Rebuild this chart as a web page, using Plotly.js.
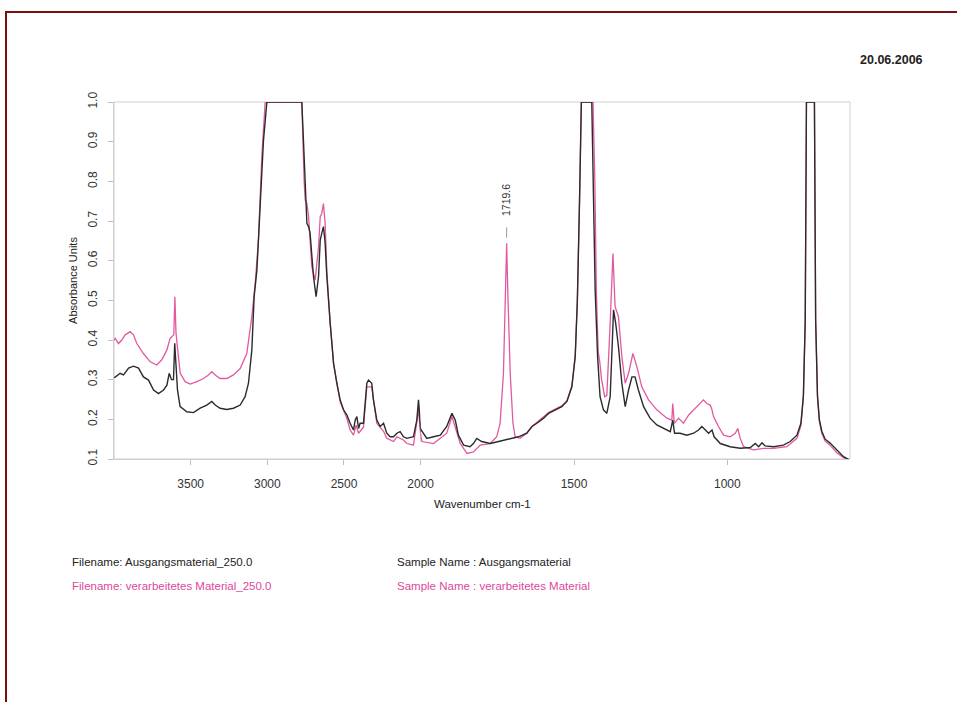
<!DOCTYPE html>
<html>
<head>
<meta charset="utf-8">
<script src="https://cdn.plot.ly/plotly-3.0.1.min.js"></script>
<style>
html,body{margin:0;padding:0;background:#fff;}
#chart{width:957px;height:702px;}
</style>
</head>
<body>
<div id="chart"></div>
<script>
// ---- Data ----
const blackWn = [4000,3990,3960,3938,3905,3873,3840,3808,3775,3742,3710,3677,3655,3640,3625,3612,3604,3597,3586,3569,3525,3482,3438,3395,3362,3340,3308,3264,3221,3177,3145,3123,3101,3086,3068,3047,3025,3003,2775,2760,2742,2731,2721,2699,2682,2666,2655,2645,2634,2623,2612,2590,2568,2547,2525,2503,2481,2460,2438,2427,2416,2405,2395,2373,2351,2340,2319,2308,2286,2264,2242,2221,2199,2177,2155,2134,2112,2090,2047,2025,2014,2000,1980,1958,1936,1915,1898,1887,1877,1860,1839,1828,1817,1801,1773,1746,1724,1703,1681,1654,1637,1621,1599,1583,1561,1540,1523,1507,1496,1489,1482,1476,1442,1436,1431,1423,1415,1404,1393,1382,1375,1371,1364,1355,1344,1333,1322,1311,1301,1290,1273,1252,1230,1208,1186,1178,1172,1154,1132,1110,1094,1083,1072,1061,1050,1043,1023,991,958,925,909,898,887,877,849,817,795,773,760,752,746,742,716,712,706,700,692,681,665,643,621,600];
const blackAbs = [0.305,0.307,0.316,0.312,0.329,0.334,0.329,0.307,0.299,0.274,0.265,0.274,0.286,0.316,0.300,0.300,0.392,0.330,0.274,0.232,0.219,0.217,0.228,0.236,0.245,0.236,0.228,0.225,0.228,0.236,0.257,0.291,0.375,0.509,0.576,0.736,0.904,1.0,1.0,0.862,0.694,0.686,0.669,0.560,0.509,0.560,0.652,0.669,0.686,0.644,0.560,0.442,0.341,0.291,0.249,0.224,0.211,0.190,0.173,0.198,0.207,0.177,0.190,0.190,0.291,0.299,0.291,0.249,0.198,0.182,0.190,0.165,0.156,0.156,0.165,0.169,0.156,0.152,0.156,0.198,0.249,0.175,0.152,0.156,0.160,0.182,0.215,0.198,0.160,0.135,0.131,0.139,0.152,0.144,0.139,0.144,0.148,0.152,0.156,0.165,0.182,0.190,0.203,0.215,0.224,0.232,0.245,0.282,0.358,0.500,0.750,1.0,1.0,0.778,0.526,0.358,0.257,0.224,0.215,0.257,0.400,0.476,0.442,0.383,0.291,0.232,0.274,0.307,0.307,0.274,0.232,0.203,0.186,0.177,0.169,0.198,0.165,0.165,0.160,0.165,0.173,0.182,0.173,0.165,0.173,0.156,0.139,0.131,0.127,0.129,0.139,0.131,0.141,0.133,0.131,0.135,0.144,0.160,0.190,0.260,0.450,1.0,1.0,0.450,0.260,0.200,0.170,0.150,0.140,0.122,0.106,0.097];

const pinkWn = [4000,3992,3971,3949,3927,3895,3873,3851,3808,3764,3721,3688,3655,3634,3623,3610,3603,3596,3586,3568,3536,3503,3460,3416,3384,3362,3340,3308,3264,3221,3177,3134,3101,3079,3058,3036,3014,2775,2760,2753,2742,2731,2710,2688,2666,2655,2645,2634,2623,2612,2590,2568,2525,2481,2460,2438,2421,2405,2373,2351,2319,2286,2242,2221,2177,2155,2112,2090,2047,2014,2000,1996,1958,1915,1898,1887,1871,1849,1828,1806,1773,1752,1741,1730,1722,1719.6,1716,1708,1699,1692,1676,1654,1637,1621,1599,1583,1561,1540,1523,1507,1496,1489,1482,1476,1438,1432,1427,1421,1416,1410,1400,1393,1382,1373,1366,1359,1355,1344,1333,1322,1308,1295,1279,1257,1230,1197,1181,1178,1173,1159,1143,1126,1110,1094,1078,1067,1056,1050,1045,1029,1012,991,974,966,958,947,915,882,849,806,773,760,752,746,742,716,712,706,700,692,681,665,643,621,600];
const pinkAbs = [0.400,0.404,0.391,0.400,0.413,0.421,0.413,0.391,0.366,0.345,0.337,0.350,0.375,0.404,0.408,0.413,0.509,0.420,0.380,0.316,0.295,0.289,0.295,0.303,0.312,0.320,0.312,0.303,0.303,0.312,0.328,0.366,0.459,0.543,0.652,0.862,1.0,1.0,0.800,0.753,0.744,0.711,0.585,0.551,0.635,0.711,0.719,0.744,0.694,0.576,0.442,0.341,0.244,0.202,0.173,0.160,0.185,0.165,0.180,0.282,0.282,0.190,0.170,0.152,0.144,0.156,0.148,0.139,0.135,0.224,0.160,0.144,0.139,0.165,0.207,0.180,0.139,0.114,0.118,0.135,0.139,0.156,0.190,0.316,0.526,0.644,0.526,0.316,0.190,0.156,0.152,0.165,0.182,0.192,0.205,0.217,0.226,0.234,0.247,0.284,0.360,0.500,0.750,1.0,1.0,0.800,0.520,0.370,0.345,0.300,0.257,0.260,0.442,0.618,0.484,0.470,0.459,0.358,0.291,0.316,0.366,0.333,0.282,0.249,0.224,0.203,0.198,0.240,0.190,0.203,0.190,0.211,0.224,0.236,0.249,0.240,0.236,0.224,0.207,0.182,0.160,0.156,0.165,0.177,0.152,0.131,0.123,0.127,0.127,0.131,0.152,0.185,0.255,0.450,1.0,1.0,0.450,0.255,0.195,0.165,0.145,0.135,0.116,0.103,0.095];

const yTicks = [0.1,0.2,0.3,0.4,0.5,0.6,0.7,0.8,0.9,1.0];
const xTicksHigh = [3500,3000,2500,2000];
const xTicksLow = [1500,1000];
const peakLabel = 1719.6;
const dateText = '20.06.2006';
const infoLines = [
  'Filename: Ausgangsmaterial_250.0',
  'Filename: verarbeitetes Material_250.0',
  'Sample Name : Ausgangsmaterial',
  'Sample Name : verarbeitetes Material'
];

// ---- Layout geometry (pixels) ----
const W = 957, H = 702;
const L = 114, R = 850, T = 102, B = 459;
const px = v => (v - L) / (R - L);
const py = v => (B - v) / (B - T);
const splitFrac = (2000 * 0.15333) / (R - L);

const BLACK = '#2b2b2b';
const PINK = '#e2599f';
const PINKTXT = '#e0479b';
const FONT = 'Liberation Sans, Arial, sans-serif';

const traces = [];
['x','x2'].forEach(xa => {
  traces.push({x: pinkWn, y: pinkAbs, xaxis: xa, yaxis: 'y', type: 'scatter', mode: 'lines',
    line: {color: PINK, width: 1.3}, name: 'verarbeitetes Material', showlegend: false, hoverinfo: 'skip'});
});
['x','x2'].forEach(xa => {
  traces.push({x: blackWn, y: blackAbs, xaxis: xa, yaxis: 'y', type: 'scatter', mode: 'lines',
    line: {color: BLACK, width: 1.4}, name: 'Ausgangsmaterial', showlegend: false, hoverinfo: 'skip'});
});

const axCommon = {
  showgrid: false, zeroline: false, showline: true, linecolor: '#cfcfcf', linewidth: 1,
  ticks: 'outside', ticklen: 5, tickcolor: '#bdbdbd', tickwidth: 1,
  tickfont: {family: FONT, size: 12, color: '#333'}, fixedrange: true
};

const layout = {
  width: W, height: H,
  margin: {l: L, r: W - R, t: T, b: H - B, pad: 0},
  paper_bgcolor: '#fff', plot_bgcolor: '#fff',
  font: {family: FONT, color: '#222'},
  showlegend: false,
  xaxis: Object.assign({}, axCommon, {domain: [0, splitFrac], range: [4000, 2000], tickvals: xTicksHigh, anchor: 'y', ticklabelstandoff: 9}),
  xaxis2: Object.assign({}, axCommon, {domain: [splitFrac, 1], range: [2000, 600], tickvals: xTicksLow, anchor: 'y', ticklabelstandoff: 9}),
  yaxis: Object.assign({}, axCommon, {
    domain: [0, 1], range: [0.1, 1.0], tickvals: yTicks, ticktext: yTicks.map(v => v.toFixed(1)),
    tickangle: -90, anchor: 'x', ticklabelstandoff: 6,
    title: {text: 'Absorbance Units', font: {family: FONT, size: 11, color: '#222'}, standoff: 6}
  }),
  shapes: [
    {type: 'rect', xref: 'paper', yref: 'paper', x0: 0, x1: 1, y0: 0, y1: 1, line: {color: '#cfcfcf', width: 1}, layer: 'below'},
    {type: 'line', xref: 'paper', yref: 'paper', x0: px(5), x1: px(957), y0: py(12), y1: py(12), line: {color: '#7a1010', width: 2}},
    {type: 'line', xref: 'paper', yref: 'paper', x0: px(6), x1: px(6), y0: py(12), y1: py(702), line: {color: '#7a1010', width: 2}},
    {type: 'line', xref: 'x2', yref: 'y', x0: peakLabel, x1: peakLabel, y0: 0.658, y1: 0.684, line: {color: '#9a9a9a', width: 1}}
  ],
  annotations: [
    {text: 'Wavenumber cm-1', xref: 'paper', yref: 'paper', x: 0.5, y: py(504), xanchor: 'center', yanchor: 'middle', showarrow: false,
     font: {family: FONT, size: 11.5, color: '#222'}},
    {text: peakLabel.toFixed(1), xref: 'x2', yref: 'y', x: peakLabel, y: 0.752, textangle: -90, showarrow: false,
     xanchor: 'center', yanchor: 'middle', font: {family: FONT, size: 10.5, color: '#333'}},
    {text: '<b>' + dateText + '</b>', xref: 'paper', yref: 'paper', x: px(925), y: py(60), xanchor: 'right', yanchor: 'middle', showarrow: false,
     font: {family: FONT, size: 12.5, color: '#222'}},
    {text: infoLines[0], xref: 'paper', yref: 'paper', x: px(70), y: py(562), xanchor: 'left', yanchor: 'middle', showarrow: false,
     font: {family: FONT, size: 11.5, color: '#222'}},
    {text: infoLines[1], xref: 'paper', yref: 'paper', x: px(70), y: py(586), xanchor: 'left', yanchor: 'middle', showarrow: false,
     font: {family: FONT, size: 11.5, color: PINKTXT}},
    {text: infoLines[2], xref: 'paper', yref: 'paper', x: px(395), y: py(562), xanchor: 'left', yanchor: 'middle', showarrow: false,
     font: {family: FONT, size: 11.5, color: '#222'}},
    {text: infoLines[3], xref: 'paper', yref: 'paper', x: px(395), y: py(586), xanchor: 'left', yanchor: 'middle', showarrow: false,
     font: {family: FONT, size: 11.5, color: PINKTXT}}
  ]
};

Plotly.newPlot('chart', traces, layout, {displayModeBar: false, staticPlot: true});
</script>
</body>
</html>
